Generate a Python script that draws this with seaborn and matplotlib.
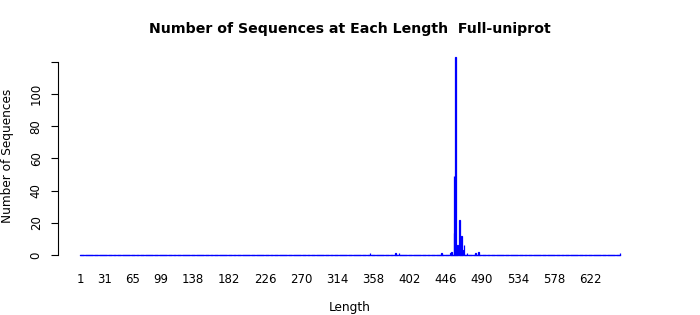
import numpy as np
import pandas as pd
import matplotlib
matplotlib.use("Agg")
import matplotlib.pyplot as plt
import seaborn as sns

# ---- data ----
max_length = 658
nonzero_lengths = [354, 385, 389, 441, 452, 453, 456, 457, 458, 460, 461, 463, 465, 466, 468, 472, 482, 486, 658]
nonzero_counts  = [1,   1,   1,   1,   1,   2,   49,  14,  123, 6,   2,   22,  12,  3,   6,   1,   1,   2,   1]
tick_values = [1, 31, 65, 99, 138, 182, 226, 270, 314, 358, 402, 446, 490, 534, 578, 622]
y_ticks = [0, 20, 40, 60, 80, 100, 120]
y_tick_labels = ["0", "20", "40", "60", "80", "100", ""]
title = "Number of Sequences at Each Length  Full-uniprot"

lengths = np.arange(1, max_length + 1)
counts = np.zeros(max_length)
for L, c in zip(nonzero_lengths, nonzero_counts):
    counts[L - 1] = c
df = pd.DataFrame({"Length": lengths, "Count": counts})

sns.set_style("white")
plt.rcParams["font.family"] = ["DejaVu Sans"]
plt.rcParams["text.color"] = "black"
plt.rcParams["axes.labelcolor"] = "black"
plt.rcParams["xtick.color"] = "black"
plt.rcParams["ytick.color"] = "black"

fig = plt.figure(figsize=(7, 3.15), dpi=100)
ax = fig.add_axes([58 / 700, 1 - 263 / 315, 584 / 700, 214 / 315])

bar_w = 1 / 1.2
sns.barplot(data=df, x="Length", y="Count", order=list(lengths), color="blue",
            saturation=1, width=bar_w, edgecolor="blue", linewidth=0.9, ax=ax)

n = len(lengths)
span = n - 1 + bar_w
pad = 0.04 * span
ax.set_xlim(-bar_w / 2 - pad, n - 1 + bar_w / 2 + pad)
ymax = max(nonzero_counts)
ax.set_ylim(-0.04 * ymax, ymax * 1.04)

# zero baseline under the bars (R barplot draws borders of zero bars)
ax.spines["bottom"].set_position(("data", 0))
ax.spines["bottom"].set_bounds(-bar_w / 2, n - 1 + bar_w / 2)
ax.spines["bottom"].set_color("blue")
ax.spines["bottom"].set_linewidth(0.9)
ax.spines["bottom"].set_zorder(0.5)

ax.set_xticks([v - 1 for v in tick_values])
ax.set_xticklabels([str(v) for v in tick_values], fontsize=8.5)
ax.tick_params(axis="x", length=0, pad=13)

ax.set_yticks(y_ticks)
ax.set_yticklabels(y_tick_labels, fontsize=8.5, rotation=90, va="center")
ax.tick_params(axis="y", length=5, width=0.8, pad=6, color="black", left=True)

for s in ["top", "right"]:
    ax.spines[s].set_visible(False)
ax.spines["left"].set_bounds(0, 120)
ax.spines["left"].set_color("black")
ax.spines["left"].set_linewidth(0.8)

ax.set_xlabel("Length", fontsize=8.7, va="center")
ax.xaxis.set_label_coords(0.5, (263 - 307) / 214)
ax.set_ylabel("Number of Sequences", fontsize=8.7, va="center")
ax.yaxis.set_label_coords((8 - 58) / 584, 0.5)
fig.text(0.5, 1 - 29 / 315, title, ha="center", va="center", fontsize=10.2, fontweight="bold")

fig.savefig("out.png", dpi=100)
